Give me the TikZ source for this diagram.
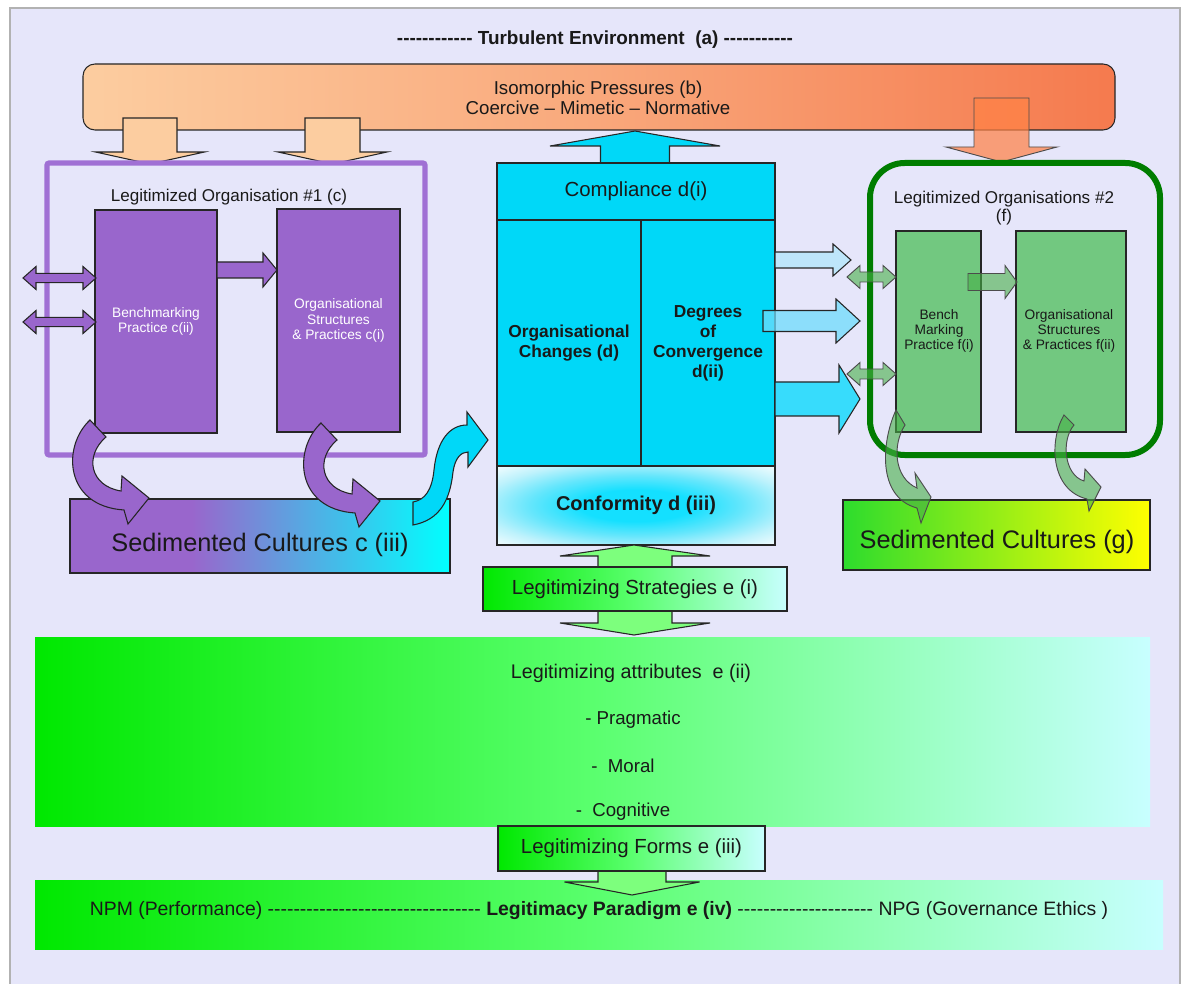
\documentclass[tikz,border=0pt]{standalone}
\usepackage{fontspec}
\setmainfont{Liberation Sans}
\usetikzlibrary{fit}

\definecolor{lav}{RGB}{230,230,250}
\definecolor{peach}{RGB}{252,205,160}
\definecolor{isoR}{RGB}{245,122,78}
\definecolor{orangeA}{RGB}{255,130,70}
\definecolor{purp}{RGB}{153,102,204}
\definecolor{purpframe}{RGB}{160,112,212}
\definecolor{cyanblk}{RGB}{0,216,248}
\definecolor{lightblue}{RGB}{190,230,250}
\definecolor{midblue}{RGB}{110,220,252}
\definecolor{blueC}{RGB}{55,220,252}
\definecolor{grnbox}{RGB}{114,200,128}
\definecolor{grnframe}{RGB}{0,125,0}
\definecolor{grnarrow}{RGB}{70,175,70}
\definecolor{brightgreen}{RGB}{0,232,0}
\definecolor{midgreen}{RGB}{90,255,110}
\definecolor{palecyan}{RGB}{200,255,255}
\definecolor{sedG}{RGB}{45,220,45}
\definecolor{sedGmid}{RGB}{140,240,30}
\definecolor{lightgrn}{RGB}{125,255,125}
\definecolor{confA}{RGB}{20,224,255}
\definecolor{confB}{RGB}{100,230,252}
\definecolor{confC}{RGB}{190,242,252}
\definecolor{txt}{RGB}{25,25,25}

% horizontal shadings, relevant part in the middle 25bp..75bp
\pgfdeclarehorizontalshading{sedcshade}{100bp}{color(0bp)=(purp); color(25bp)=(purp); color(41bp)=(purp); color(75bp)=(cyan); color(100bp)=(cyan)}
\pgfdeclarehorizontalshading{legitshade}{100bp}{color(0bp)=(brightgreen); color(25bp)=(brightgreen); color(50bp)=(midgreen); color(75bp)=(palecyan); color(100bp)=(palecyan)}
% glow of the conformity cell
\pgfdeclareradialshading{confshade}{\pgfpoint{0bp}{0bp}}{color(0bp)=(confA); color(10bp)=(confA); color(19bp)=(confB); color(28bp)=(confC); color(37bp)=(white); color(50bp)=(white)}

% run of separate hyphens
\newcommand\hyphens[1]{\foreach\k in {1,...,#1}{\mbox{-}}}

% block arrows: [style]{x1}{x2}{yc}{shaft half}{head half}{head length}
\newcommand\arrowR[7][]{%
  \path[#1] (#2,#4-#5) -- (#3-#7,#4-#5) -- (#3-#7,#4-#6) -- (#3,#4)
    -- (#3-#7,#4+#6) -- (#3-#7,#4+#5) -- (#2,#4+#5) -- cycle;}
\newcommand\arrowLR[7][]{%
  \path[#1] (#2,#4) -- (#2+#7,#4-#6) -- (#2+#7,#4-#5) -- (#3-#7,#4-#5)
    -- (#3-#7,#4-#6) -- (#3,#4) -- (#3-#7,#4+#6) -- (#3-#7,#4+#5)
    -- (#2+#7,#4+#5) -- (#2+#7,#4+#6) -- cycle;}
% vertical: [style]{xc}{y1}{y2}{shaft half}{head half}{head length}
\newcommand\arrowD[7][]{%
  \path[#1] (#2-#5,#3) -- (#2+#5,#3) -- (#2+#5,#4-#7) -- (#2+#6,#4-#7)
    -- (#2,#4) -- (#2-#6,#4-#7) -- (#2-#5,#4-#7) -- cycle;}
\newcommand\arrowU[7][]{%
  \path[#1] (#2-#5,#4) -- (#2+#5,#4) -- (#2+#5,#3+#7) -- (#2+#6,#3+#7)
    -- (#2,#3) -- (#2-#6,#3+#7) -- (#2-#5,#3+#7) -- cycle;}

\begin{document}
\begin{tikzpicture}[x=0.75pt,y=-0.75pt,
  outl/.style={draw=black!85,line width=0.8pt},
  boxnode/.style={outl,inner sep=0pt},
  plainbox/.style={inner sep=0pt},
  lbl/.style={inner sep=0pt,align=center,text=txt},
  f10/.style={font=\fontsize{10.3}{11.5}\selectfont},
  f13/.style={font=\fontsize{12.8}{13.5}\selectfont},
  fbold/.style={font=\bfseries\fontsize{13}{15}\selectfont},
  f14/.style={font=\fontsize{14}{15}\selectfont},
  f15/.style={font=\fontsize{15.3}{17}\selectfont},
  f19/.style={font=\fontsize{19}{22}\selectfont},
  purparrow/.style={outl,fill=purp},
  grnarr/.style={draw=black!70,line width=0.7pt,fill=grnarrow,fill opacity=0.6},
]
\useasboundingbox (0,0) rectangle (1186,984);
\fill[white] (0,0) rectangle (1186,984);
\fill[lav] (10,8) rectangle (1180,990);
\draw[black!30,line width=0.8pt] (10,984) -- (10,8) -- (1180,8) -- (1180,984);

% heading
\node[lbl,font=\bfseries\fontsize{14.2}{16}\selectfont] (env) at (595,40)
  {\hyphens{12} Turbulent Environment\ \ (a) \hyphens{11}};

% isomorphic pressures
\node[boxnode,fit={(83,64) (1115,130)},rounded corners=9pt,
      left color=peach,right color=isoR,middle color=peach!55!isoR] (iso) {};
\node[lbl,font=\fontsize{14}{15}\selectfont] (isotxt) at (598,98)
  {Isomorphic Pressures (b)\\Coercive – Mimetic – Normative};

% pressure arrows downward
\arrowD[outl,fill=peach]{150}{118}{164}{27}{54.5}{12}
\arrowD[outl,fill=peach]{332.5}{118}{164}{27.5}{54.5}{12}

% organisation #1
\node[draw=purpframe,line width=3.8pt,fit={(47,163) (425,455)},inner sep=0pt,
      rounded corners=1.5pt] (org1) {};
\node[lbl,f13] (org1lbl) at (229,197) {Legitimized Organisation \#1 (c)};
\node[boxnode,fill=purp,fit={(95,210) (217,433)}] (cii) {};
\node[lbl,f10,text=white] (ciitxt) at (cii.center) {Benchmarking\\Practice c(ii)};
\node[boxnode,fill=purp,fit={(277,209) (400,432)}] (ci) {};
\node[lbl,f10,text=white] (citxt) at (ci.center)
  {Organisational\\Structures\\\& Practices c(i)};
\arrowR[purparrow]{217}{277}{270}{8}{17}{14}
\arrowLR[purparrow]{23}{96}{278}{4.7}{11.5}{13}
\arrowLR[purparrow]{23}{96}{322}{4.7}{11.5}{13}

% sedimented cultures c
\node[outl,shading=sedcshade,fit={(70,499) (450,573)},inner sep=0pt] (sedc) {};
\node[lbl,f19] (sedctxt) at (260,545) {Sedimented Cultures c (iii)};

% curved purple arrows into the sedimented culture
\foreach \dx/\dy in {0/0, 231/3}{
  \begin{scope}[shift={(\dx,\dy)}]
    \path[purparrow] (90,420) .. controls (62,446) and (64,506) .. (124,510)
      -- (128,524) -- (149,498) -- (122,476) -- (121,491)
      .. controls (90,486) and (84,456) .. (106,437) -- cycle;
  \end{scope}}

% cyan S arrow towards the centre block
\path[outl,fill=cyanblk] (413,502) -- (413,525)
  .. controls (440,520) and (450,500) .. (453,472)
  .. controls (455,458) and (461,452) .. (468,452) -- (468,467) -- (488,440)
  -- (467,412) -- (467,425)
  .. controls (450,425) and (437,440) .. (434,470)
  .. controls (432,490) and (425,500) .. (413,502) -- cycle;

% centre block
\arrowU[outl,fill=cyanblk]{635}{131}{164}{34.5}{85}{15}
\node[boxnode,fill=cyanblk,fit={(497,163) (775,220)}] (comp) {};
\node[lbl,f15] (comptxt) at (comp.center) {Compliance d(i)};
\node[boxnode,fill=cyanblk,fit={(497,220) (641,466)}] (orgchg) {};
\node[lbl,fbold] (orgchgtxt) at (orgchg.center) {Organisational\\Changes (d)};
\node[boxnode,fill=cyanblk,fit={(641,220) (775,466)}] (degr) {};
\node[lbl,fbold] (degrtxt) at (degr.center) {Degrees\\of\\Convergence\\d(ii)};
\node[boxnode,shading=confshade,fit={(497,466) (775,545)}] (conf) {};
\node[lbl,font=\bfseries\fontsize{15}{17}\selectfont] (conftxt) at (conf.center)
  {Conformity d (iii)};

% arrows towards organisation #2
\arrowR[outl,fill=lightblue]{775}{851}{260}{8}{16}{18}
\arrowR[outl,fill=midblue,fill opacity=0.75]{763}{860}{321}{10.5}{22}{24}
\arrowR[outl,fill=blueC]{775}{860}{399}{17}{34}{21}

% pressure arrow into organisation #2
\arrowD[draw=black!70,line width=0.7pt,fill=orangeA,fill opacity=0.72]{1001.5}{98}{162}{27.5}{55.5}{15}

% organisation #2
\node[lbl,f13] (org2lbl) at (1004,208) {Legitimized Organisations \#2\\(f)};
\node[boxnode,fill=grnbox,fit={(896,231) (981,432)}] (fi) {};
\node[lbl,f10] (fitxt) at (939,331) {Bench\\Marking\\Practice f(i)};
\node[boxnode,fill=grnbox,fit={(1016,231) (1126,432)}] (fii) {};
\node[lbl,f10] (fiitxt) at (1069,331) {Organisational\\Structures\\\& Practices f(ii)};
\node[draw=grnframe,line width=4.5pt,fit={(870,163) (1160,455)},inner sep=0pt,
      rounded corners=26pt] (org2) {};
\arrowR[grnarr]{968}{1017}{282}{8.5}{16.5}{12}
\arrowLR[grnarr]{847}{896}{277}{5}{11.5}{13}
\arrowLR[grnarr]{847}{896}{374}{5}{11.5}{13}

% sedimented cultures g
\node[outl,left color=sedG,middle color=sedGmid,right color=yellow,
      fit={(843,500) (1150,570)},inner sep=0pt] (sedg) {};
\node[lbl,f19] (sedgtxt) at (997,542) {Sedimented Cultures (g)};

% curved green arrows
\path[grnarr] (896,410) .. controls (882,440) and (876,497) .. (917,508)
  -- (921,523) -- (931,497) -- (915,473) -- (917,488)
  .. controls (894,478) and (892,445) .. (905,425) -- cycle;
\path[grnarr] (1064,415) .. controls (1049,440) and (1050,490) .. (1087,499)
  -- (1089,511) -- (1101,487) -- (1085,469) -- (1084,481)
  .. controls (1064,475) and (1061,440) .. (1074,425) -- cycle;

% legitimizing strategies with double arrow
\path[outl,fill=lightgrn] (634,545) -- (710,556) -- (672,556) -- (672,623)
  -- (710,623) -- (634,635) -- (560,623) -- (598,623) -- (598,556) -- (560,556) -- cycle;
\node[boxnode,shading=legitshade,fit={(483,567) (787,611)}] (strat) {};
\node[lbl,font=\fontsize{15.3}{17}\selectfont] (strattxt) at (strat.center)
  {Legitimizing Strategies e (i)};

% legitimizing attributes
\node[plainbox,shading=legitshade,fit={(35,637) (1150,826)}] (attr) {};
\node[lbl,font=\fontsize{14.8}{16}\selectfont] (attr0) at (631,673) {Legitimizing attributes\ \ e (ii)};
\node[lbl,f14] (attr1) at (633,720) {- Pragmatic};
\node[lbl,f14] (attr2) at (623,766) {-\ \ Moral};
\node[lbl,f14] (attr3) at (623,812) {-\ \ Cognitive};

% legitimacy paradigm bar
\node[plainbox,shading=legitshade,fit={(35,880) (1163,949)}] (para) {};
\node[lbl,font=\fontsize{14.55}{16}\selectfont] (paratxt) at (599,911)
  {NPM (Performance) \hyphens{33} \textbf{Legitimacy Paradigm e (iv)} \hyphens{21} NPG (Governance Ethics )};

% legitimizing forms with arrow
\arrowD[outl,fill=lightgrn]{632}{860}{895}{34}{67.5}{13}
\node[boxnode,shading=legitshade,fit={(498,826) (765,871)}] (forms) {};
\node[lbl,font=\fontsize{15.3}{17}\selectfont] (formstxt) at (forms.center)
  {Legitimizing Forms e (iii)};
\end{tikzpicture}
\end{document}
